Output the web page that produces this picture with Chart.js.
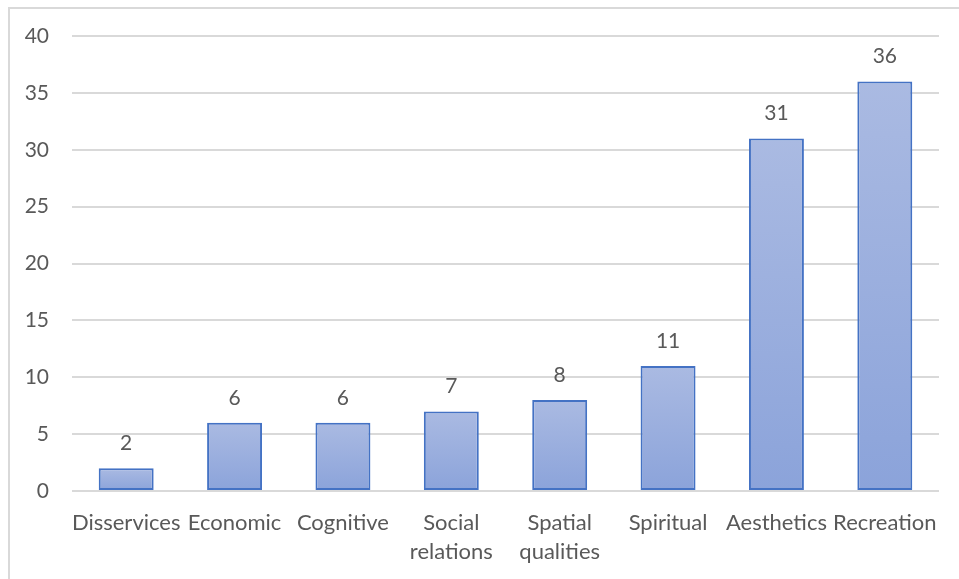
<!DOCTYPE html>
<html>
<head>
<meta charset="utf-8">
<script src="https://cdn.jsdelivr.net/npm/chart.js@4/dist/chart.umd.min.js"></script>
<style>
  html, body { margin: 0; padding: 0; background: #fff; }
  #wrap { position: relative; width: 959px; height: 579px; overflow: hidden; }
  #frame { position: absolute; left: 8px; top: 7px; width: 1000px; height: 1000px;
           border-top: 2px solid #D9D9D9; border-left: 2px solid #D9D9D9; box-sizing: border-box; }
  canvas { position: absolute; left: 0; top: 0; }
</style>
</head>
<body>
<div id="wrap">
  <div id="frame"></div>
  <canvas id="chart" width="959" height="579"></canvas>
</div>
<script>
// Service categories and number of mentions
const categories = [
  'Disservices', 'Economic', 'Cognitive', ['Social', 'relations'],
  ['Spatial', 'qualities'], 'Spiritual', 'Aesthetics', 'Recreation'
];
const counts = [2, 6, 6, 7, 8, 11, 31, 36];
const yTicks = [0, 5, 10, 15, 20, 25, 30, 35, 40];

const FONT = 'Lato, "Open Sans", sans-serif';
const TEXT = '#595959';

// Vertical gradient per bar: lighter at the top, deeper at the base
function barGradient(ctx) {
  const chart = ctx.chart;
  const area = chart.chartArea;
  if (!area || ctx.dataIndex === undefined) return '#9AAEDD';
  const y = chart.scales.y;
  const top = y.getPixelForValue(counts[ctx.dataIndex]);
  const bottom = y.getPixelForValue(0);
  const g = chart.ctx.createLinearGradient(0, top, 0, bottom);
  g.addColorStop(0, '#AABAE2');
  g.addColorStop(1, '#8BA3DA');
  return g;
}

// Value labels above each bar
const valueLabels = {
  id: 'valueLabels',
  afterDatasetsDraw(chart) {
    const c = chart.ctx;
    const meta = chart.getDatasetMeta(0);
    c.save();
    c.font = '21px ' + FONT;
    c.fillStyle = TEXT;
    c.textAlign = 'center';
    c.textBaseline = 'middle';
    meta.data.forEach((bar, i) => {
      c.fillText(String(counts[i]), bar.x, bar.y - 25);
    });
    c.restore();
  }
};

new Chart(document.getElementById('chart'), {
  type: 'bar',
  data: {
    labels: categories,
    datasets: [{
      data: counts,
      backgroundColor: barGradient,
      borderColor: '#4472C4',
      borderWidth: 2,
      borderSkipped: false,
      categoryPercentage: 1,
      barPercentage: 0.507
    }]
  },
  options: {
    responsive: false,
    animation: false,
    layout: { padding: { top: 36, right: 20, left: 0, bottom: 0 } },
    plugins: { legend: { display: false }, tooltip: { enabled: false } },
    scales: {
      x: {
        grid: { display: false, drawTicks: false },
        border: { display: false },
        ticks: {
          color: TEXT,
          font: { family: FONT, size: 22, lineHeight: 1.32 },
          autoSkip: false, maxRotation: 0, minRotation: 0,
          padding: 17
        },
        afterFit(scale) { scale.height = 88; }
      },
      y: {
        min: 0, max: 40,
        afterBuildTicks(scale) { scale.ticks = yTicks.map(v => ({ value: v })); },
        grid: { color: '#D9D9D9', lineWidth: 2, drawTicks: false },
        border: { display: false },
        ticks: {
          color: TEXT,
          font: { family: FONT, size: 21 },
          padding: 23
        },
        afterFit(scale) { scale.width = 72; }
      }
    }
  },
  plugins: [valueLabels]
});
</script>
</body>
</html>
